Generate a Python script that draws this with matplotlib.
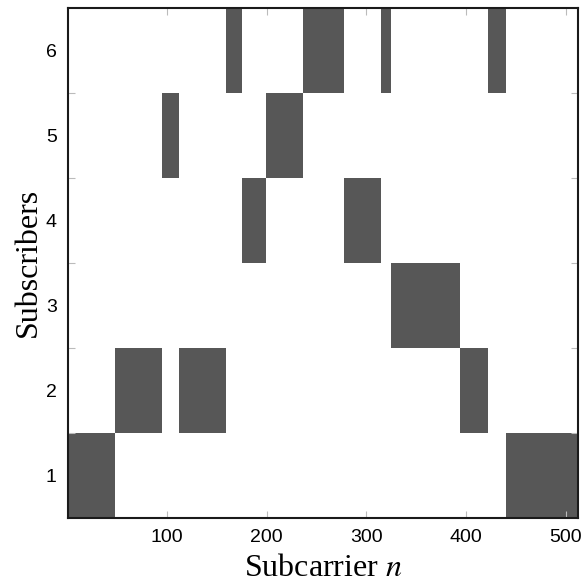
import numpy as np
import matplotlib
matplotlib.use("Agg")
import matplotlib.pyplot as plt
from matplotlib.colors import ListedColormap

plt.rcParams["mathtext.fontset"] = "stix"
plt.rcParams["xtick.direction"] = "in"
plt.rcParams["ytick.direction"] = "in"

# subcarrier allocation: (subscriber, first subcarrier, last subcarrier)
subscriber = [1, 2, 5, 2, 6, 4, 5, 6, 4, 6, 3, 2, 6, 1]
first_sc = [1, 48, 95, 112, 160, 176, 200, 237, 278, 315, 325, 395, 423, 441]
last_sc = [47, 94, 111, 159, 175, 199, 236, 277, 314, 324, 394, 422, 440, 512]

n_sub = 6
n_sc = 512

alloc = np.zeros((n_sub, n_sc))
for s, a, b in zip(subscriber, first_sc, last_sc):
    alloc[s - 1, a - 1:b] = 1

fig = plt.figure(figsize=(5.84, 5.84), dpi=100)
ax = fig.add_axes([0.1164, 0.113, 0.8733, 0.874])

cmap = ListedColormap(["white", "#575757"])
xe = np.arange(0.5, n_sc + 1.0, 1.0)
ye = np.arange(0.5, n_sub + 1.0, 1.0)
ax.pcolormesh(xe, ye, alloc, cmap=cmap, vmin=0, vmax=1, shading="flat",
              rasterized=True)

ax.set_xlim(0.5, 512.5)
ax.set_ylim(0.5, 6.5)

ax.set_xticks([100, 200, 300, 400, 500])
ax.set_yticks([1, 2, 3, 4, 5, 6])
ax.set_yticks(np.arange(1.5, 6.0, 1.0), minor=True)
ax.tick_params(axis="x", which="major", direction="in", length=5, width=0.8,
               color="#bbbbbb", top=True, labelsize=14, pad=8)
ax.tick_params(axis="y", which="major", length=0, labelsize=14, pad=8)
ax.tick_params(axis="y", which="minor", direction="in", length=5, width=0.8,
               color="#bbbbbb", left=True, right=True)
for lab in ax.get_xticklabels() + ax.get_yticklabels():
    lab.set_family(["Liberation Sans", "DejaVu Sans"])

for sp in ax.spines.values():
    sp.set_linewidth(1.5)
    sp.set_color("#1a1a1a")

ax.set_xlabel("Subcarrier $n$", family="Liberation Serif", fontsize=23,
              labelpad=6)
ax.set_ylabel("Subscribers", family="Liberation Serif", fontsize=23,
              labelpad=2)

fig.savefig("out.png", dpi=100)
